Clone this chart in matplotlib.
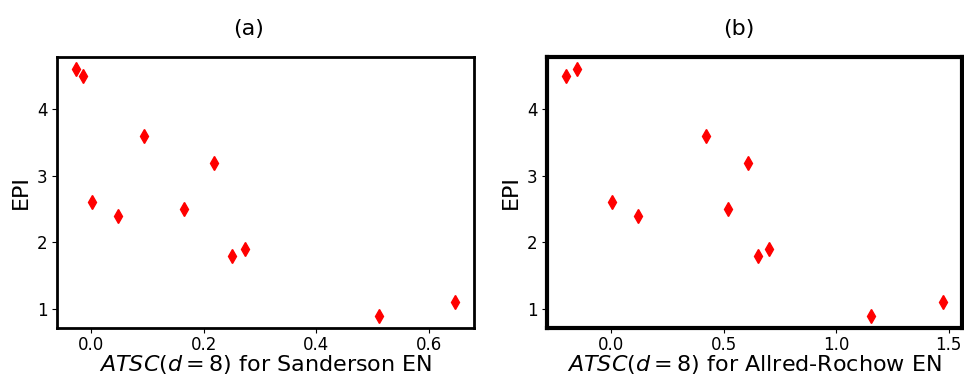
import matplotlib
matplotlib.use("Agg")
import matplotlib.pyplot as plt

epi = [4.6, 4.5, 2.6, 2.4, 3.6, 2.5, 3.2, 1.8, 1.9, 0.9, 1.1]
atsc_sanderson = [-0.027, -0.014, 0.002, 0.047, 0.094, 0.165, 0.218, 0.251, 0.273, 0.512, 0.647]
epi_b = [4.5, 4.6, 2.6, 2.4, 3.6, 2.5, 3.2, 1.8, 1.9, 0.9, 1.1]
atsc_allred = [-0.202, -0.153, 0.001, 0.119, 0.42, 0.52, 0.608, 0.654, 0.70, 1.153, 1.475]

fig = plt.figure(figsize=(9.64, 3.79), dpi=100)
ax1 = fig.add_axes([57/964, 1-328/379, (474-57)/964, (328-57)/379])
ax2 = fig.add_axes([547/964, 1-328/379, (962-547)/964, (328-57)/379])

ax1.plot(atsc_sanderson, epi, 'rd', markersize=7, linestyle='none')
ax2.plot(atsc_allred, epi_b, 'rd', markersize=7, linestyle='none')

ax1.set_title('(a)', fontsize=16, pad=16, x=0.46)
ax2.set_title('(b)', fontsize=16, pad=16, x=0.463)
ax1.set_xlabel('$ATSC(d=8)$ for Sanderson EN', fontsize=16, labelpad=-1)
ax2.set_xlabel('$ATSC(d=8)$ for Allred-Rochow EN', fontsize=16, labelpad=-1)
for ax in (ax1, ax2):
    ax.set_ylabel('EPI', fontsize=16)
    ax.tick_params(labelsize=12)
    ax.tick_params(axis='x', pad=2.5)
    ax.set_yticks([1, 2, 3, 4])
for s in ax1.spines.values():
    s.set_linewidth(2)
for s in ax2.spines.values():
    s.set_linewidth(3)
ax1.set_xticks([0.0, 0.2, 0.4, 0.6])
ax2.set_xticks([0.0, 0.5, 1.0, 1.5])

fig.savefig('out.png', dpi=100)
